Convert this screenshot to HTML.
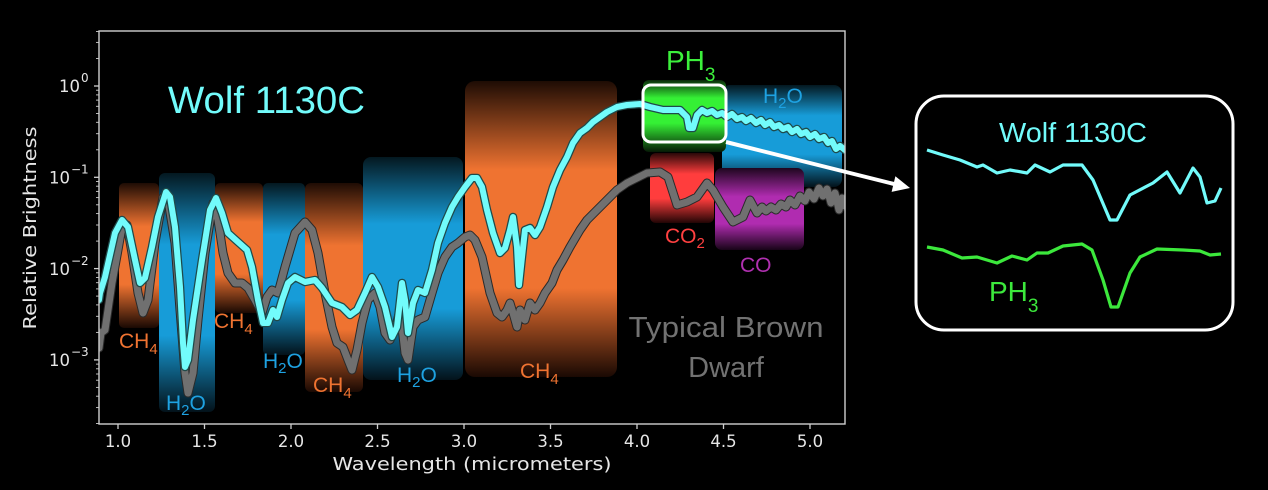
<!DOCTYPE html>
<html>
<head>
<meta charset="utf-8">
<style>
  html,body{margin:0;padding:0;background:#000;}
  svg{display:block;}
  .tk{font-family:"DejaVu Sans","Liberation Sans",sans-serif;fill:#e6e6e6;}
  .lb{font-family:"Liberation Sans",sans-serif;}
</style>
</head>
<body>
<svg width="1268" height="490" viewBox="0 0 1268 490" xmlns="http://www.w3.org/2000/svg">
  <defs>
    <linearGradient id="gOr" x1="0" y1="0" x2="0" y2="1">
      <stop offset="0" stop-color="#1e0c04"/>
      <stop offset="0.3" stop-color="#ef7331"/>
      <stop offset="0.7" stop-color="#ef7331"/>
      <stop offset="1" stop-color="#1a0903"/>
    </linearGradient>
    <linearGradient id="gBl" x1="0" y1="0" x2="0" y2="1">
      <stop offset="0" stop-color="#041820"/>
      <stop offset="0.3" stop-color="#179cd8"/>
      <stop offset="0.68" stop-color="#179cd8"/>
      <stop offset="1" stop-color="#03121a"/>
    </linearGradient>
    <linearGradient id="gRd" x1="0" y1="0" x2="0" y2="1">
      <stop offset="0" stop-color="#2a0808"/>
      <stop offset="0.3" stop-color="#ff3d3d"/>
      <stop offset="0.65" stop-color="#ff3d3d"/>
      <stop offset="1" stop-color="#220505"/>
    </linearGradient>
    <linearGradient id="gPu" x1="0" y1="0" x2="0" y2="1">
      <stop offset="0" stop-color="#1e061e"/>
      <stop offset="0.35" stop-color="#b02cb0"/>
      <stop offset="0.68" stop-color="#b02cb0"/>
      <stop offset="1" stop-color="#180418"/>
    </linearGradient>
    <linearGradient id="gGr" x1="0" y1="0" x2="0" y2="1">
      <stop offset="0" stop-color="#0a2a0a"/>
      <stop offset="0.25" stop-color="#35f035"/>
      <stop offset="0.6" stop-color="#35f035"/>
      <stop offset="1" stop-color="#061a06"/>
    </linearGradient>
    <clipPath id="ax"><rect x="99" y="31" width="746" height="393"/></clipPath>
  </defs>

  <rect x="0" y="0" width="1268" height="490" fill="#000"/>

  <!-- absorption bands -->
  <g>
    <rect x="119" y="183" width="40" height="145" rx="5" fill="url(#gOr)"/>
    <rect x="159" y="173" width="56" height="239" rx="6" fill="url(#gBl)"/>
    <rect x="215" y="183" width="48" height="130" rx="5" fill="url(#gOr)"/>
    <rect x="263" y="183" width="42" height="172" rx="5" fill="url(#gBl)"/>
    <rect x="305" y="183" width="58" height="209" rx="6" fill="url(#gOr)"/>
    <rect x="363" y="157" width="100" height="223" rx="8" fill="url(#gBl)"/>
    <rect x="465" y="81" width="152" height="296" rx="10" fill="url(#gOr)"/>
    <rect x="722" y="85" width="120" height="102" rx="8" fill="url(#gBl)"/>
    <rect x="650" y="153" width="64" height="70" rx="6" fill="url(#gRd)"/>
    <rect x="715" y="168" width="89" height="82" rx="7" fill="url(#gPu)"/>
    <rect x="643" y="80" width="83" height="72" rx="6" fill="url(#gGr)"/>
  </g>

  <!-- spectra -->
  <g clip-path="url(#ax)" fill="none" stroke-linejoin="round" stroke-linecap="round">
    <path d="M99,348 L101,333 L105,330 L112,283 L118,250 L122,227 L127,225 L132,253 L138,293 L143,313 L148,300 L155,243 L163,197 L168,200 L175,243 L180,310 L185,373 L188,393 L193,373 L198,320 L205,253 L213,203 L218,220 L223,253 L228,273 L235,283 L242,283 L248,288 L255,300 L262,313 L267,297 L272,290 L278,293 L285,267 L295,233 L305,222 L312,230 L318,253 L325,293 L332,327 L337,343 L343,347 L348,360 L352,370 L357,350 L362,323 L368,300 L375,293 L380,307 L385,333 L390,340 L395,330 L400,310 L405,353 L408,360 L413,327 L418,320 L425,317 L432,293 L438,273 L445,257 L452,247 L458,243 L465,237 L470,235 L475,240 L482,257 L490,293 L497,313 L502,317 L507,310 L510,303 L513,313 L517,327 L520,310 L525,320 L530,303 L535,310 L540,303 L545,293 L552,283 L557,270 L563,260 L570,247 L580,230 L587,220 L597,210 L607,200 L617,190 L627,183 L637,178 L647,173 L660,172 L668,177 L677,205 L687,202 L697,197 L707,183 L713,190 L723,207 L733,222 L743,217 L750,200 L757,213 L762,207 L766,211 L771,207 L776,210 L781,204 L786,207 L790,200 L795,205 L800,196 L805,201 L809,192 L814,199 L819,188 L823,196 L827,189 L831,203 L835,193 L839,210 L842,198 L845,206" stroke="#2a2a2a" stroke-width="9"/>
    <path d="M99,348 L101,333 L105,330 L112,283 L118,250 L122,227 L127,225 L132,253 L138,293 L143,313 L148,300 L155,243 L163,197 L168,200 L175,243 L180,310 L185,373 L188,393 L193,373 L198,320 L205,253 L213,203 L218,220 L223,253 L228,273 L235,283 L242,283 L248,288 L255,300 L262,313 L267,297 L272,290 L278,293 L285,267 L295,233 L305,222 L312,230 L318,253 L325,293 L332,327 L337,343 L343,347 L348,360 L352,370 L357,350 L362,323 L368,300 L375,293 L380,307 L385,333 L390,340 L395,330 L400,310 L405,353 L408,360 L413,327 L418,320 L425,317 L432,293 L438,273 L445,257 L452,247 L458,243 L465,237 L470,235 L475,240 L482,257 L490,293 L497,313 L502,317 L507,310 L510,303 L513,313 L517,327 L520,310 L525,320 L530,303 L535,310 L540,303 L545,293 L552,283 L557,270 L563,260 L570,247 L580,230 L587,220 L597,210 L607,200 L617,190 L627,183 L637,178 L647,173 L660,172 L668,177 L677,205 L687,202 L697,197 L707,183 L713,190 L723,207 L733,222 L743,217 L750,200 L757,213 L762,207 L766,211 L771,207 L776,210 L781,204 L786,207 L790,200 L795,205 L800,196 L805,201 L809,192 L814,199 L819,188 L823,196 L827,189 L831,203 L835,193 L839,210 L842,198 L845,206" stroke="#707070" stroke-width="7"/>

    <path d="M99,300 L100,293 L105,277 L115,233 L122,220 L128,227 L135,260 L140,283 L145,278 L152,247 L158,217 L166,192 L170,197 L175,227 L180,287 L183,343 L185,367 L188,360 L193,320 L202,260 L210,210 L216,198 L222,213 L228,233 L238,242 L247,250 L252,267 L258,300 L263,323 L268,323 L273,310 L277,317 L282,300 L288,283 L295,277 L305,282 L315,280 L322,288 L332,303 L342,307 L350,315 L357,310 L365,293 L372,277 L378,287 L385,307 L392,337 L397,327 L402,283 L405,300 L408,333 L413,303 L418,290 L425,293 L432,270 L438,243 L445,223 L452,207 L458,197 L465,187 L472,178 L477,178 L482,187 L487,210 L493,233 L500,253 L505,248 L510,230 L513,217 L517,247 L519,285 L522,257 L525,230 L530,228 L535,235 L540,227 L547,207 L553,187 L560,170 L567,157 L573,143 L580,133 L587,128 L593,122 L600,117 L607,112 L617,107 L627,105 L640,104 L650,107 L663,110 L680,110 L687,117 L689,128 L693,128 L697,115 L702,110 L707,113 L712,111 L717,115 L722,113 L727,117 L732,114 L737,119 L742,117 L746,121 L751,118 L756,123 L761,120 L765,125 L770,122 L774,127 L779,125 L783,129 L788,127 L792,132 L797,129 L801,134 L806,132 L810,137 L815,134 L819,139 L824,137 L828,143 L832,141 L836,149 L840,146 L845,150" stroke="#1f4a4a" stroke-width="8.5"/>
    <path d="M99,300 L100,293 L105,277 L115,233 L122,220 L128,227 L135,260 L140,283 L145,278 L152,247 L158,217 L166,192 L170,197 L175,227 L180,287 L183,343 L185,367 L188,360 L193,320 L202,260 L210,210 L216,198 L222,213 L228,233 L238,242 L247,250 L252,267 L258,300 L263,323 L268,323 L273,310 L277,317 L282,300 L288,283 L295,277 L305,282 L315,280 L322,288 L332,303 L342,307 L350,315 L357,310 L365,293 L372,277 L378,287 L385,307 L392,337 L397,327 L402,283 L405,300 L408,333 L413,303 L418,290 L425,293 L432,270 L438,243 L445,223 L452,207 L458,197 L465,187 L472,178 L477,178 L482,187 L487,210 L493,233 L500,253 L505,248 L510,230 L513,217 L517,247 L519,285 L522,257 L525,230 L530,228 L535,235 L540,227 L547,207 L553,187 L560,170 L567,157 L573,143 L580,133 L587,128 L593,122 L600,117 L607,112 L617,107 L627,105 L640,104 L650,107 L663,110 L680,110 L687,117 L689,128 L693,128 L697,115 L702,110 L707,113 L712,111 L717,115 L722,113 L727,117 L732,114 L737,119 L742,117 L746,121 L751,118 L756,123 L761,120 L765,125 L770,122 L774,127 L779,125 L783,129 L788,127 L792,132 L797,129 L801,134 L806,132 L810,137 L815,134 L819,139 L824,137 L828,143 L832,141 L836,149 L840,146 L845,150" stroke="#72fbfb" stroke-width="6"/>
  </g>

  <!-- PH3 highlight box border -->
  <rect x="643" y="85" width="83" height="57" rx="8" fill="none" stroke="#ffffff" stroke-width="3"/>

  <!-- axes frame -->
  <rect x="99" y="31" width="746" height="393" fill="none" stroke="#cfcfcf" stroke-width="1.4"/>

  <!-- x ticks -->
  <g stroke="#cfcfcf" stroke-width="1.3">
    <line x1="118" y1="424" x2="118" y2="429"/>
    <line x1="204.5" y1="424" x2="204.5" y2="429"/>
    <line x1="291" y1="424" x2="291" y2="429"/>
    <line x1="377.5" y1="424" x2="377.5" y2="429"/>
    <line x1="464" y1="424" x2="464" y2="429"/>
    <line x1="550.5" y1="424" x2="550.5" y2="429"/>
    <line x1="637" y1="424" x2="637" y2="429"/>
    <line x1="723.5" y1="424" x2="723.5" y2="429"/>
    <line x1="810" y1="424" x2="810" y2="429"/>
  </g>
  <g class="tk" font-size="16.5" text-anchor="middle">
    <text x="118" y="447">1.0</text>
    <text x="204.5" y="447">1.5</text>
    <text x="291" y="447">2.0</text>
    <text x="377.5" y="447">2.5</text>
    <text x="464" y="447">3.0</text>
    <text x="550.5" y="447">3.5</text>
    <text x="637" y="447">4.0</text>
    <text x="723.5" y="447">4.5</text>
    <text x="810" y="447">5.0</text>
  </g>

  <!-- y ticks -->
  <g stroke="#cfcfcf" stroke-width="1.3">
    <line x1="94" y1="86" x2="99" y2="86"/>
    <line x1="94" y1="177.3" x2="99" y2="177.3"/>
    <line x1="94" y1="268.6" x2="99" y2="268.6"/>
    <line x1="94" y1="359.9" x2="99" y2="359.9"/>
  </g>
  <g stroke="#cfcfcf" stroke-width="0.9">
    <line x1="96" y1="58.5" x2="99" y2="58.5"/><line x1="96" y1="42.4" x2="99" y2="42.4"/><line x1="96" y1="31.5" x2="99" y2="31.5"/>
    <line x1="96" y1="149.8" x2="99" y2="149.8"/><line x1="96" y1="133.7" x2="99" y2="133.7"/><line x1="96" y1="122.3" x2="99" y2="122.3"/><line x1="96" y1="113.5" x2="99" y2="113.5"/><line x1="96" y1="106.3" x2="99" y2="106.3"/><line x1="96" y1="100.1" x2="99" y2="100.1"/><line x1="96" y1="94.9" x2="99" y2="94.9"/><line x1="96" y1="90.2" x2="99" y2="90.2"/>
    <line x1="96" y1="241.1" x2="99" y2="241.1"/><line x1="96" y1="225" x2="99" y2="225"/><line x1="96" y1="213.6" x2="99" y2="213.6"/><line x1="96" y1="204.8" x2="99" y2="204.8"/><line x1="96" y1="197.6" x2="99" y2="197.6"/><line x1="96" y1="191.4" x2="99" y2="191.4"/><line x1="96" y1="186.2" x2="99" y2="186.2"/><line x1="96" y1="181.5" x2="99" y2="181.5"/>
    <line x1="96" y1="332.4" x2="99" y2="332.4"/><line x1="96" y1="316.3" x2="99" y2="316.3"/><line x1="96" y1="304.9" x2="99" y2="304.9"/><line x1="96" y1="296.1" x2="99" y2="296.1"/><line x1="96" y1="288.9" x2="99" y2="288.9"/><line x1="96" y1="282.7" x2="99" y2="282.7"/><line x1="96" y1="277.5" x2="99" y2="277.5"/><line x1="96" y1="272.8" x2="99" y2="272.8"/>
    <line x1="96" y1="423.5" x2="99" y2="423.5"/><line x1="96" y1="407.6" x2="99" y2="407.6"/><line x1="96" y1="396.2" x2="99" y2="396.2"/><line x1="96" y1="387.4" x2="99" y2="387.4"/><line x1="96" y1="380.2" x2="99" y2="380.2"/><line x1="96" y1="374" x2="99" y2="374"/><line x1="96" y1="368.8" x2="99" y2="368.8"/><line x1="96" y1="364.1" x2="99" y2="364.1"/>
  </g>
  <g class="tk" font-size="16.5">
    <text x="80" y="92" text-anchor="end">10</text><text x="81" y="82" font-size="12">0</text>
    <text x="70" y="183.5" text-anchor="end">10</text><text x="71" y="173.5" font-size="12">−1</text>
    <text x="70" y="275" text-anchor="end">10</text><text x="71" y="265" font-size="12">−2</text>
    <text x="70" y="366" text-anchor="end">10</text><text x="71" y="356" font-size="12">−3</text>
  </g>

  <!-- axis labels -->
  <text class="tk" x="472" y="470" font-size="17.5" text-anchor="middle" textLength="279" lengthAdjust="spacingAndGlyphs">Wavelength (micrometers)</text>
  <text class="tk" transform="translate(36,228) rotate(-90)" x="0" y="0" font-size="17.5" text-anchor="middle" textLength="203" lengthAdjust="spacingAndGlyphs">Relative Brightness</text>

  <!-- titles -->
  <text class="lb" x="168" y="113" font-size="38" fill="#72fbfb" textLength="197" lengthAdjust="spacingAndGlyphs">Wolf 1130C</text>
  <text class="lb" x="666" y="70" font-size="28" fill="#3cf03c">PH<tspan font-size="19" dy="11">3</tspan></text>
  <text class="lb" x="726" y="337" font-size="29" fill="#727272" text-anchor="middle" textLength="195" lengthAdjust="spacingAndGlyphs">Typical Brown</text>
  <text class="lb" x="726" y="377" font-size="29" fill="#727272" text-anchor="middle">Dwarf</text>

  <!-- band labels -->
  <g class="lb" font-size="21">
    <text x="119" y="348" fill="#ef7331">CH<tspan font-size="15" dy="6">4</tspan></text>
    <text x="166" y="410" fill="#1ea2e2">H<tspan font-size="15" dy="5">2</tspan><tspan dy="-5">O</tspan></text>
    <text x="214" y="328" fill="#ef7331">CH<tspan font-size="15" dy="6">4</tspan></text>
    <text x="263" y="368" fill="#1ea2e2">H<tspan font-size="15" dy="5">2</tspan><tspan dy="-5">O</tspan></text>
    <text x="313" y="392" fill="#ef7331">CH<tspan font-size="15" dy="6">4</tspan></text>
    <text x="397" y="382" fill="#1ea2e2">H<tspan font-size="15" dy="5">2</tspan><tspan dy="-5">O</tspan></text>
    <text x="520" y="378" fill="#ef7331">CH<tspan font-size="15" dy="6">4</tspan></text>
    <text x="763" y="103" fill="#1ea2e2">H<tspan font-size="15" dy="5">2</tspan><tspan dy="-5">O</tspan></text>
    <text x="665" y="243" fill="#ff4040">CO<tspan font-size="15" dy="5">2</tspan></text>
    <text x="740" y="272" fill="#b030b0">CO</text>
  </g>

  <!-- arrow -->
  <line x1="726" y1="142" x2="896" y2="184.5" stroke="#ffffff" stroke-width="4"/>
  <polygon points="910,188 895.4,176.3 891.6,191.9" fill="#ffffff"/>

  <!-- inset -->
  <rect x="916" y="96" width="317" height="234" rx="28" fill="#000" stroke="#ffffff" stroke-width="3"/>
  <text class="lb" x="999" y="142" font-size="28" fill="#72fbfb" textLength="148" lengthAdjust="spacingAndGlyphs">Wolf 1130C</text>
  <polyline fill="none" stroke="#72fbfb" stroke-width="3.2" stroke-linejoin="round" points="927,150 943,155 960,160 977,167 983,165 997,173 1010,170 1027,173 1035,165 1050,172 1063,165 1082,165 1093,180 1110,220 1117,220 1130,195 1153,183 1167,172 1180,193 1193,168 1200,177 1207,203 1215,201 1221,188"/>
  <polyline fill="none" stroke="#3ce83c" stroke-width="3.2" stroke-linejoin="round" points="927,247 943,250 962,258 977,257 997,263 1012,256 1027,260 1037,253 1048,253 1063,246 1082,244 1092,250 1103,280 1111,307 1118,307 1130,273 1140,257 1157,249 1183,250 1200,251 1210,255 1221,254"/>
  <text class="lb" x="989" y="301" font-size="28" fill="#3ce83c">PH<tspan font-size="19" dy="11">3</tspan></text>
</svg>
</body>
</html>
